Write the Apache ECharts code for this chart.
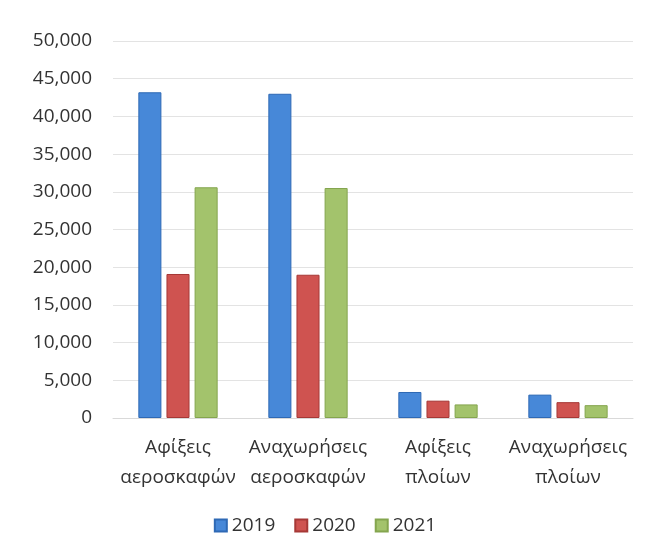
<!DOCTYPE html>
<html>
<head>
<meta charset="utf-8">
<script src="https://cdn.jsdelivr.net/npm/echarts@6/dist/echarts.min.js"></script>
<style>
html,body{margin:0;padding:0;background:#fff;}
#c{width:650px;height:558px;}
</style>
</head>
<body>
<div id="c"></div>
<script>
const categories = ['Αφίξεις\nαεροσκαφών', 'Αναχωρήσεις\nαεροσκαφών', 'Αφίξεις\nπλοίων', 'Αναχωρήσεις\nπλοίων'];
const seriesNames = ['2019', '2020', '2021'];
const values2019 = [43200, 43000, 3450, 3100];
const values2020 = [19100, 19000, 2300, 2100];
const values2021 = [30600, 30500, 1800, 1700];
const yTicks = { min: 0, max: 50000, interval: 5000 };

const fills = ['#4788d8', '#cf5350', '#a3c36c'];
const borders = ['#2e69b5', '#a63836', '#84a54e'];
const font = 'Open Sans, Liberation Sans, sans-serif';
const textColor = '#333333';

const chart = echarts.init(document.getElementById('c'));
const data = [values2019, values2020, values2021];
chart.setOption({
  animation: false,
  textStyle: { fontFamily: font },
  grid: { left: 113, right: 17, top: 41, bottom: 140 },
  legend: {
    data: seriesNames,
    bottom: 18,
    left: 'center',
    itemWidth: 12, itemHeight: 12, itemGap: 19,
    icon: 'rect',
    textStyle: { fontSize: 19, color: textColor, fontFamily: font }
  },
  xAxis: {
    type: 'category',
    data: categories,
    axisLine: { lineStyle: { color: '#d9d9d9' } },
    axisTick: { show: false },
    axisLabel: { fontSize: 19, color: textColor, lineHeight: 30, margin: 15, interval: 0 }
  },
  yAxis: {
    type: 'value',
    min: yTicks.min, max: yTicks.max, interval: yTicks.interval,
    axisLine: { show: false },
    axisTick: { show: false },
    splitLine: { lineStyle: { color: '#e3e3e3' } },
    axisLabel: {
      fontSize: 19, color: textColor, margin: 21,
      formatter: v => v.toLocaleString('en-US')
    }
  },
  series: seriesNames.map((n, i) => ({
    name: n,
    type: 'bar',
    data: data[i],
    barGap: '22%',
    barCategoryGap: '39%',
    itemStyle: { color: fills[i], borderColor: borders[i], borderWidth: 1 }
  }))
});
</script>
</body>
</html>
